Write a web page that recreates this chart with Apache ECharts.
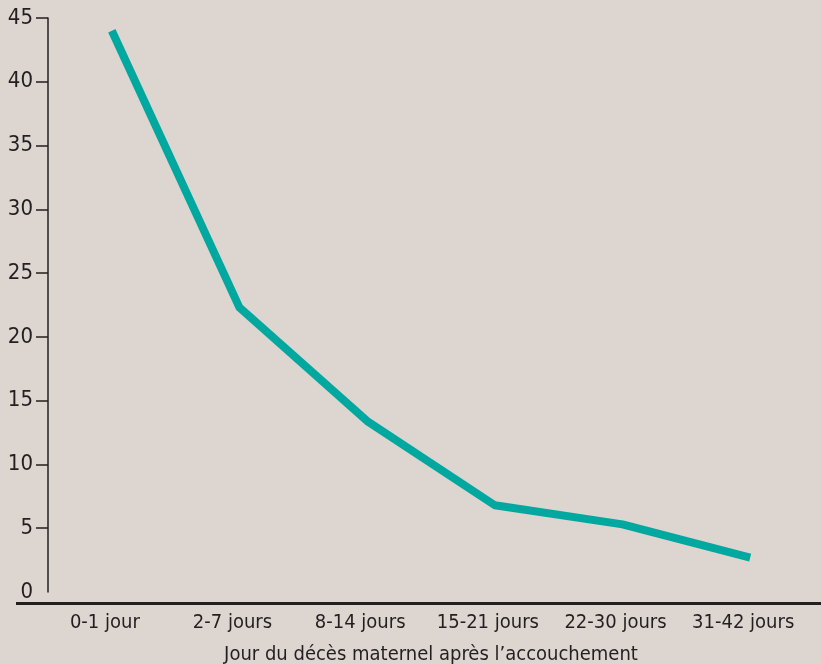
<!DOCTYPE html>
<html>
<head>
<meta charset="utf-8">
<script src="https://cdn.jsdelivr.net/npm/echarts@6/dist/echarts.min.js"></script>
<style>
  html, body { margin: 0; padding: 0; background: #dcd5d0; }
  #chart { width: 821px; height: 664px; }
</style>
</head>
<body>
<div id="chart"></div>
<script>
// catégories et valeurs
var categories = ['0-1 jour', '2-7 jours', '8-14 jours', '15-21 jours', '22-30 jours', '31-42 jours'];
var values = [44, 22.3, 13.4, 6.8, 5.3, 2.7];
var yTicks = [0, 5, 10, 15, 20, 25, 30, 35, 40, 45];

var fontName = '"DejaVu Sans Condensed", "Liberation Sans Narrow", sans-serif';
var inkColor = '#231f20';

var chart = echarts.init(document.getElementById('chart'));
chart.setOption({
    backgroundColor: '#dcd5d0',
    animation: false,
    grid: {
        left: 48,
        right: 7,
        top: 18,
        bottom: 72,
        outerBoundsMode: 'none'
    },
    xAxis: {
        type: 'category',
        data: categories,
        boundaryGap: true,
        offset: 12,
        axisLine: { show: false },
        axisTick: { show: false },
        axisLabel: {
            interval: 0,
            color: inkColor,
            fontFamily: fontName,
            fontSize: 20,
            margin: 9,
            padding: [0, 14, 0, 0]
        },
        name: 'Jour du décès maternel après l\u2019accouchement',
        nameLocation: 'middle',
        nameGap: 41,
        nameTextStyle: {
            color: inkColor,
            fontFamily: fontName,
            fontSize: 20
        }
    },
    yAxis: {
        type: 'value',
        min: yTicks[0],
        max: yTicks[yTicks.length - 1],
        interval: 5,
        splitLine: { show: false },
        axisLine: { show: true, lineStyle: { color: inkColor, width: 1.5 } },
        axisTick: {
            show: true,
            inside: false,
            length: 12,
            customValues: yTicks.slice(1),
            lineStyle: { color: inkColor, width: 1.5 }
        },
        axisLabel: {
            color: inkColor,
            fontFamily: fontName,
            fontSize: 22,
            margin: 15
        }
    },
    graphic: [
        {
            // ligne de base sous les catégories
            type: 'rect',
            shape: { x: 16, y: 602, width: 805, height: 3 },
            style: { fill: inkColor },
            silent: true
        }
    ],
    series: [
        {
            type: 'line',
            data: values,
            symbol: 'none',
            lineStyle: { color: '#00a89f', width: 8, cap: 'butt', join: 'round' }
        }
    ]
});
</script>
</body>
</html>
